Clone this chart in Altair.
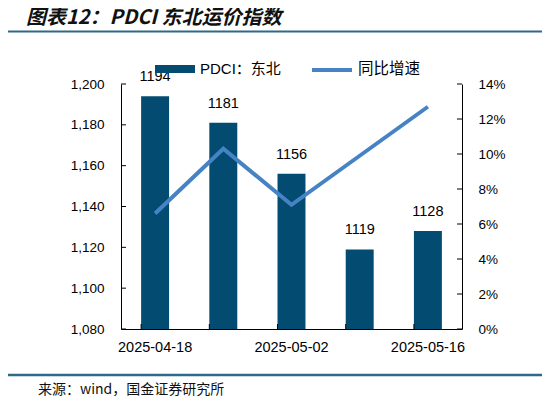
import altair as alt
import pandas as pd

# ---- data ----
dates = ["2025-04-18", "2025-04-25", "2025-05-02", "2025-05-09", "2025-05-16"]
pdci = [1194, 1181, 1156, 1119, 1128]
yoy = [6.6, 10.3, 7.1, 9.9, 12.7]
left_ticks = [1080, 1100, 1120, 1140, 1160, 1180, 1200]
right_ticks = [0, 2, 4, 6, 8, 10, 12, 14]
x_labels = ["2025-04-18", "2025-05-02", "2025-05-16"]
title_text = "图表12：PDCI 东北运价指数"
source_text = "来源：wind，国金证券研究所"
bar_name = "PDCI：东北"
line_name = "同比增速"

BAR = "#034B70"
LINE = "#4683C4"
RULE = "#2B6A8A"
NUM_FONT = "Liberation Sans"
CJK_FONT = "Noto Sans CJK SC"
W, H = 341, 245

df = pd.DataFrame({"date": dates, "pdci": pdci, "yoy": yoy})

xenc = alt.X("date:N", sort=None,
             scale=alt.Scale(paddingInner=0.59, paddingOuter=0.295),
             axis=alt.Axis(values=x_labels, title=None, tickSize=0, labelAngle=0,
                           labelFontSize=14.5, labelFont=NUM_FONT, labelColor="#000",
                           labelPadding=11, domainColor="#000", domainWidth=1, grid=False,
                           labelOverlap=False))

yleft_scale = alt.Scale(domain=[left_ticks[0], left_ticks[-1]], zero=False, nice=False)
yright_scale = alt.Scale(domain=[right_ticks[0], right_ticks[-1]], zero=False, nice=False)

left_axis = alt.Axis(orient="left", values=left_ticks, format=",d", title=None, tickSize=0,
                     labelFontSize=13.5, labelFont=NUM_FONT, labelColor="#000",
                     labelPadding=17, domainColor="#000", grid=False, labelOverlap=False)

right_axis = alt.Axis(orient="right", values=right_ticks, labelExpr="datum.value + '%'",
                      title=None, tickSize=0, labelFontSize=13.5, labelFont=NUM_FONT,
                      labelColor="#000", labelPadding=16, domainColor="#000", grid=False,
                      labelOverlap=False)

bars = alt.Chart(df).mark_bar(color=BAR).encode(
    x=xenc,
    y=alt.Y("pdci:Q", scale=yleft_scale, axis=left_axis, title=None),
    y2=alt.datum(left_ticks[0]),
)

labels = alt.Chart(df).mark_text(dy=-12, baseline="bottom", fontSize=14.5,
                                 font=NUM_FONT, color="#000").encode(
    x=alt.X("date:N", sort=None),
    y=alt.Y("pdci:Q", scale=yleft_scale, axis=left_axis, title=None),
    text=alt.Text("pdci:Q", format="d"),
)

lt_df = pd.DataFrame({"v": left_ticks})
lticks = alt.Chart(lt_df).mark_rule(color="#000", strokeWidth=1).encode(
    y=alt.Y("v:Q", scale=yleft_scale, axis=left_axis, title=None),
    x=alt.value(0), x2=alt.value(5),
)

xt = alt.Chart(df).mark_rule(color="#000", strokeWidth=1).encode(
    x=alt.X("date:N", sort=None, bandPosition=0),
    y=alt.value(H - 5), y2=alt.value(H),
)

# decorations
deco_df = pd.DataFrame({"k": [0]})
title = alt.Chart(deco_df).mark_text(
    text=title_text, align="left", baseline="middle", fontSize=20,
    fontWeight="bold", fontStyle="italic", font=CJK_FONT, color="#111"
).encode(x=alt.value(-95), y=alt.value(-66))
top_rule = alt.Chart(deco_df).mark_rule(color=RULE, strokeWidth=2).encode(
    x=alt.value(-113), x2=alt.value(421), y=alt.value(-52.5))
bot_rule = alt.Chart(deco_df).mark_rule(color=RULE, strokeWidth=2.5).encode(
    x=alt.value(-113), x2=alt.value(421), y=alt.value(291))
source = alt.Chart(deco_df).mark_text(
    text=source_text, align="left", baseline="middle", fontSize=14,
    font=CJK_FONT, color="#111"
).encode(x=alt.value(-83), y=alt.value(306))
leg_rect = alt.Chart(deco_df).mark_rect(color=BAR).encode(
    x=alt.value(34), x2=alt.value(74), y=alt.value(-19), y2=alt.value(-11))
leg_t1 = alt.Chart(deco_df).mark_text(
    text=bar_name, align="left", baseline="middle", fontSize=15,
    font=f"{NUM_FONT}, {CJK_FONT}", color="#000"
).encode(x=alt.value(79), y=alt.value(-15))
leg_line = alt.Chart(deco_df).mark_rule(color=LINE, strokeWidth=4).encode(
    x=alt.value(191), x2=alt.value(231), y=alt.value(-14))
leg_t2 = alt.Chart(deco_df).mark_text(
    text=line_name, align="left", baseline="middle", fontSize=15.5,
    font=CJK_FONT, color="#000"
).encode(x=alt.value(237), y=alt.value(-15))

left_group = alt.layer(bars, labels, lticks, xt, title, top_rule, bot_rule,
                       source, leg_rect, leg_t1, leg_line, leg_t2)

line = alt.Chart(df).mark_line(color=LINE, strokeWidth=4).encode(
    x=alt.X("date:N", sort=None),
    y=alt.Y("yoy:Q", scale=yright_scale, axis=right_axis, title=None),
)
rt_df = pd.DataFrame({"v": right_ticks})
rticks = alt.Chart(rt_df).mark_rule(color="#000", strokeWidth=1).encode(
    y=alt.Y("v:Q", scale=yright_scale, axis=right_axis, title=None),
    x=alt.value(W - 5), x2=alt.value(W),
)
right_group = alt.layer(line, rticks)

chart = alt.layer(left_group, right_group).resolve_scale(y="independent").properties(
    width=W, height=H,
    autosize=alt.AutoSizeParams(type="none"),
    padding={"left": 113, "top": 76, "right": 80, "bottom": 67},
    background="white",
).configure_view(stroke=None)

chart.save("out.html", embed_options={"renderer": "svg", "actions": False})
